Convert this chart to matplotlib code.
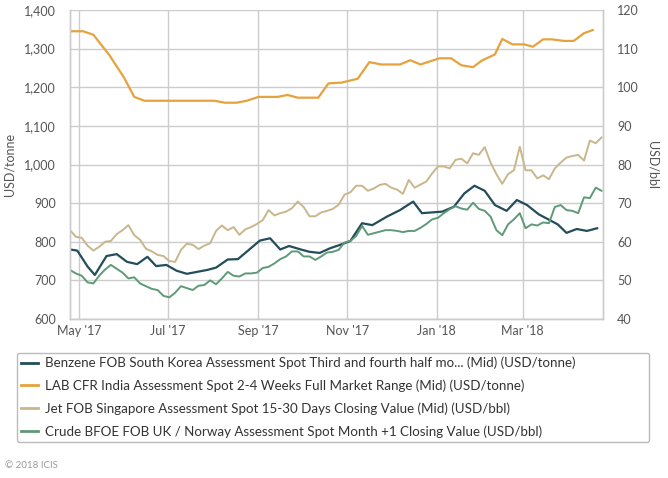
import matplotlib
matplotlib.use("Agg")
import matplotlib.pyplot as plt
import matplotlib.dates as mdates
from matplotlib.ticker import FuncFormatter, MultipleLocator
import pandas as pd

plt.rcParams['font.family'] = ['Lato', 'DejaVu Sans']

# ---------------- data ----------------
benzene_dates = ["2017-04-25", "2017-04-30", "2017-05-07", "2017-05-12", "2017-05-20", "2017-05-27",
                 "2017-06-03", "2017-06-10", "2017-06-17", "2017-06-23", "2017-06-30", "2017-07-07",
                 "2017-07-14", "2017-07-28", "2017-08-03", "2017-08-11", "2017-08-18", "2017-09-02",
                 "2017-09-09", "2017-09-16", "2017-09-22", "2017-10-01", "2017-10-06", "2017-10-13",
                 "2017-10-20", "2017-10-27", "2017-11-03", "2017-11-11", "2017-11-18", "2017-11-28",
                 "2017-12-07", "2017-12-16", "2017-12-22", "2018-01-05", "2018-01-13", "2018-01-20",
                 "2018-01-27", "2018-02-03", "2018-02-10", "2018-02-18", "2018-02-25", "2018-03-04",
                 "2018-03-12", "2018-03-25", "2018-03-31", "2018-04-07", "2018-04-14", "2018-04-21"]
benzene_values = [780, 777, 736, 714, 763, 768,
                  748, 742, 761, 737, 740, 725,
                  717, 727, 733, 754, 755, 803,
                  809, 780, 789, 779, 774, 771,
                  783, 792, 802, 848, 843, 865,
                  882, 904, 874, 878, 891, 925,
                  945, 932, 895, 880, 908, 895,
                  871, 845, 823, 833, 828, 835]

lab_dates = ["2017-04-25", "2017-05-04", "2017-05-11", "2017-05-22", "2017-06-01", "2017-06-08",
             "2017-06-15", "2017-08-02", "2017-08-09", "2017-08-17", "2017-08-24", "2017-09-01",
             "2017-09-14", "2017-09-21", "2017-09-28", "2017-10-12", "2017-10-19", "2017-10-28",
             "2017-11-08", "2017-11-16", "2017-11-24", "2017-12-07", "2017-12-14", "2017-12-21",
             "2018-01-03", "2018-01-11", "2018-01-18", "2018-01-26", "2018-02-01", "2018-02-10",
             "2018-02-15", "2018-02-22", "2018-03-02", "2018-03-08", "2018-03-15", "2018-03-21",
             "2018-03-29", "2018-04-05", "2018-04-12", "2018-04-18"]
lab_values = [1345, 1345, 1336, 1283, 1225, 1175,
              1165, 1165, 1160, 1160, 1165, 1175,
              1175, 1180, 1173, 1173, 1210, 1212,
              1222, 1265, 1259, 1259, 1270, 1259,
              1275, 1275, 1257, 1252, 1269, 1285,
              1325, 1311, 1311, 1305, 1324, 1324,
              1320, 1320, 1340, 1348]

# Jet and crude (USD/bbl) sampled every 4 days from 2017-04-25
daily_start = "2017-04-25"
jet_values = [63.0, 61.3, 61.0, 59.0, 57.7, 58.7, 60.0, 60.2, 62.0, 63.0,
              64.3, 61.7, 60.5, 58.2, 57.5, 56.6, 56.3, 55.0, 54.8, 57.9,
              59.5, 59.2, 58.1, 59.0, 59.6, 62.8, 64.2, 63.0, 63.8, 61.8,
              63.2, 63.8, 64.6, 65.6, 68.2, 66.8, 67.4, 67.8, 68.7, 70.4,
              69.0, 66.6, 66.6, 67.6, 68.0, 68.5, 69.6, 72.2, 72.8, 74.5,
              74.5, 73.2, 73.8, 74.7, 75.0, 74.0, 73.5, 72.4, 76.0, 74.0,
              74.8, 75.6, 77.7, 79.5, 79.5, 79.0, 81.2, 81.5, 80.3, 82.9,
              82.5, 84.5, 80.5, 77.5, 75.0, 77.5, 78.5, 84.6, 78.5, 78.5,
              76.4, 77.2, 76.2, 79.0, 80.5, 81.8, 82.2, 82.5, 81.0, 86.2,
              85.5, 87.0]
crude_values = [52.7, 51.8, 51.2, 49.5, 49.2, 51.2, 52.8, 54.0, 53.0, 52.0,
                50.5, 50.8, 49.2, 48.5, 47.8, 47.5, 46.0, 45.6, 46.8, 48.5,
                48.0, 47.5, 48.6, 48.8, 50.0, 49.0, 50.5, 52.2, 51.2, 51.0,
                51.8, 51.8, 52.0, 53.2, 53.5, 54.4, 55.5, 56.2, 57.5, 57.5,
                56.2, 56.2, 55.3, 56.2, 57.2, 57.4, 57.9, 59.8, 60.2, 61.5,
                64.1, 61.8, 62.2, 62.6, 63.0, 63.0, 62.8, 62.5, 62.8, 62.8,
                63.6, 64.6, 65.8, 66.2, 67.4, 68.4, 69.2, 68.6, 68.3, 70.1,
                68.5, 68.0, 66.5, 63.0, 61.7, 64.5, 65.8, 67.4, 63.5, 64.5,
                64.2, 65.0, 64.8, 69.0, 69.5, 68.2, 68.0, 67.4, 71.5, 71.3,
                74.0, 73.2]

legend_labels = [
    "Benzene FOB South Korea Assessment Spot Third and fourth half mo... (Mid) (USD/tonne)",
    "LAB CFR India Assessment Spot 2-4 Weeks Full Market Range (Mid) (USD/tonne)",
    "Jet FOB Singapore Assessment Spot 15-30 Days Closing Value (Mid) (USD/bbl)",
    "Crude BFOE FOB UK / Norway Assessment Spot Month +1 Closing Value (USD/bbl)",
]
colors = ["#234d5a", "#e6a23c", "#c9b68b", "#5e9a78"]

# ---------------- plot ----------------
W, H = 668, 478
fig = plt.figure(figsize=(W / 100, H / 100), dpi=100)
ax = fig.add_axes([70 / W, 1 - 319 / H, (603 - 70) / W, (319 - 10) / H])
ax2 = ax.twinx()

daily_dates = pd.date_range(daily_start, periods=len(jet_values), freq="4D")

l1, = ax.plot(pd.to_datetime(benzene_dates), benzene_values, color=colors[0], lw=1.6, zorder=3)
l2, = ax.plot(pd.to_datetime(lab_dates), lab_values, color=colors[1], lw=1.6, zorder=3)
l3, = ax2.plot(daily_dates, jet_values, color=colors[2], lw=1.4)
l4, = ax2.plot(daily_dates, crude_values, color=colors[3], lw=1.4)

ax.set_ylim(600, 1400)
ax2.set_ylim(40, 120)
ax.yaxis.set_major_locator(MultipleLocator(100))
ax2.yaxis.set_major_locator(MultipleLocator(10))
ax.yaxis.set_major_formatter(FuncFormatter(lambda v, p: f"{int(v):,}"))
ax.set_xlim(pd.Timestamp("2017-04-25"), pd.Timestamp("2018-04-25"))
ax.xaxis.set_major_locator(mdates.MonthLocator(bymonth=[1, 3, 5, 7, 9, 11]))
ax.xaxis.set_major_formatter(mdates.DateFormatter("%b '%y"))

grid_c = "#cccccc"
ax.grid(True, color=grid_c, lw=1.0)
ax.set_axisbelow(True)
for a in (ax, ax2):
    for s in a.spines.values():
        s.set_color(grid_c)
        s.set_linewidth(1.0)
    a.spines["top"].set_visible(False)
    a.tick_params(length=0, colors="#555555", labelsize=9)
ax.tick_params(axis="y", pad=10)
ax2.tick_params(axis="y", pad=10)
ax.tick_params(axis="x", pad=4)

ax.set_ylabel("USD/tonne", color="#555555", fontsize=9, labelpad=6)
ax2.set_ylabel("USD/bbl", color="#555555", fontsize=9, rotation=270, labelpad=14)

leg = fig.legend([l1, l2, l3, l4], legend_labels, loc="upper left",
                 bbox_to_anchor=(10 / W, 1 - 346 / H, (656 - 10) / W, 0.0), mode="expand",
                 fontsize=9.65, frameon=True, fancybox=True, edgecolor="#aaaaaa",
                 handlelength=1.3, handletextpad=0.5, labelspacing=0.77, borderpad=0.3,
                 labelcolor="#333333")
leg.get_frame().set_linewidth(1.0)
for ln in leg.get_lines():
    ln.set_linewidth(2.0)

fig.text(5 / W, 1 - 465 / H, "\u00a9 2018 ICIS", fontsize=7, color="#999999", va="center")

fig.savefig("out.png", dpi=100)
